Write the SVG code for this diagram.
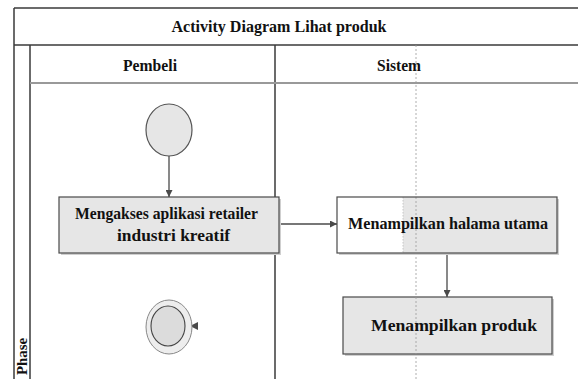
<svg xmlns="http://www.w3.org/2000/svg" width="578" height="379" viewBox="0 0 578 379">
  <style>
    .frame { stroke: #3a3a3a; stroke-width: 1.5; fill: none; }
    .lbl { font-family: "Liberation Serif", "Times New Roman", serif; font-weight: bold; fill: #111; }
    .act { fill: #e6e6e6; stroke: #4a4a4a; stroke-width: 1.2; }
    .shadow { fill: #cfcfcf; }
    .edge { stroke: #4a4a4a; stroke-width: 1.3; fill: none; }
  </style>
  <defs>
    <marker id="arrow" viewBox="0 0 10 10" refX="10" refY="5" markerWidth="7" markerHeight="7" orient="auto" markerUnits="userSpaceOnUse">
      <path d="M0,0 L10,5 L0,10 z" fill="#4a4a4a"/>
    </marker>
  </defs>
  <rect x="0" y="0" width="578" height="379" fill="#ffffff"/>

  <!-- swimlane frame -->
  <g id="frame">
    <line class="frame" x1="14" y1="8" x2="578" y2="8"/>
    <line class="frame" x1="14" y1="8" x2="14" y2="379"/>
    <line class="frame" x1="14" y1="45" x2="578" y2="45"/>
    <line class="frame" x1="30" y1="45" x2="30" y2="379"/>
    <line class="frame" x1="275" y1="45" x2="275" y2="379"/>
    <line x1="30" y1="83" x2="578" y2="83" stroke="#999" stroke-width="2"/>
    <line x1="416" y1="45" x2="416" y2="379" stroke="#9a9a9a" stroke-width="0.8" stroke-dasharray="2,2"/>
    <text class="lbl" x="279" y="32" font-size="17" text-anchor="middle" textLength="215" lengthAdjust="spacingAndGlyphs">Activity Diagram Lihat produk</text>
    <text class="lbl" x="150" y="71" font-size="17" text-anchor="middle" textLength="54" lengthAdjust="spacingAndGlyphs">Pembeli</text>
    <text class="lbl" x="399" y="71" font-size="17" text-anchor="middle" textLength="44" lengthAdjust="spacingAndGlyphs">Sistem</text>
    <text class="lbl" transform="translate(27,375) rotate(-90)" font-size="14" textLength="37" lengthAdjust="spacingAndGlyphs">Phase</text>
  </g>

  <!-- connectors -->
  <g id="connectors">
    <line class="edge" x1="169" y1="156" x2="169" y2="197" marker-end="url(#arrow)"/>
    <line class="edge" x1="279" y1="224" x2="337" y2="224" marker-end="url(#arrow)"/>
    <line class="edge" x1="447" y1="253" x2="447" y2="297" marker-end="url(#arrow)"/>
    <path d="M198,322 L190,326 L198,330 z" fill="#4a4a4a"/>
  </g>

  <!-- start node -->
  <g id="start">
    <ellipse cx="169" cy="130" rx="23" ry="26" fill="#e6e6e6" stroke="#555" stroke-width="1.2"/>
  </g>

  <!-- activity: Mengakses aplikasi -->
  <g id="akses">
    <rect class="shadow" x="61" y="199" width="220" height="56"/>
    <rect class="act" x="59" y="197" width="220" height="56"/>
    <text class="lbl" x="166.5" y="219" font-size="16.5" text-anchor="middle" textLength="183" lengthAdjust="spacingAndGlyphs">Mengakses aplikasi retailer</text>
    <text class="lbl" x="173.5" y="241" font-size="16.5" text-anchor="middle" textLength="113" lengthAdjust="spacingAndGlyphs">industri kreatif</text>
  </g>

  <!-- activity: Menampilkan halama utama -->
  <g id="halaman">
    <rect class="shadow" x="339" y="199" width="220" height="56"/>
    <rect x="337" y="197" width="220" height="56" fill="#ffffff"/>
    <rect x="403" y="197" width="154" height="56" fill="#e6e6e6"/>
    <line x1="403" y1="197" x2="403" y2="253" stroke="#bbb" stroke-width="0.8" stroke-dasharray="1.5,1.5"/>
    <line x1="416" y1="197" x2="416" y2="253" stroke="#9a9a9a" stroke-width="0.8" stroke-dasharray="2,2"/>
    <rect x="337" y="197" width="220" height="56" fill="none" stroke="#4a4a4a" stroke-width="1.2"/>
    <text class="lbl" x="448" y="229" font-size="16.5" text-anchor="middle" textLength="200" lengthAdjust="spacingAndGlyphs">Menampilkan halama utama</text>
  </g>

  <!-- activity: Menampilkan produk -->
  <g id="produk">
    <rect class="shadow" x="345" y="299" width="209" height="57"/>
    <rect class="act" x="343" y="297" width="209" height="57"/>
    <line x1="416" y1="297" x2="416" y2="354" stroke="#9a9a9a" stroke-width="0.8" stroke-dasharray="2,2"/>
    <text class="lbl" x="454" y="331" font-size="17" text-anchor="middle" textLength="166" lengthAdjust="spacingAndGlyphs">Menampilkan produk</text>
  </g>

  <!-- end node -->
  <g id="end">
    <ellipse cx="169" cy="327" rx="23" ry="27" fill="#ededed" stroke="#888" stroke-width="1"/>
    <ellipse cx="168" cy="326" rx="17" ry="20" fill="#dcdcdc" stroke="#444" stroke-width="1.1"/>
  </g>
</svg>
